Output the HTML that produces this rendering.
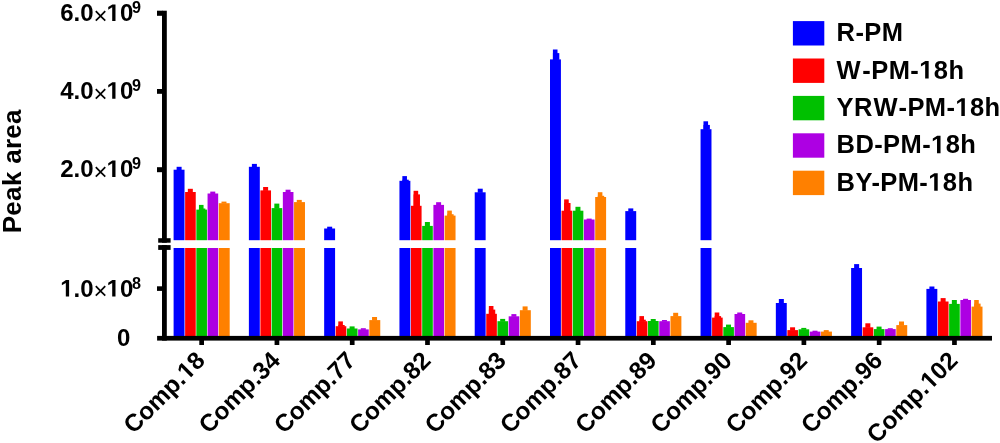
<!DOCTYPE html>
<html><head><meta charset="utf-8"><style>
html,body{margin:0;padding:0;background:#fff;}
svg{display:block;}
svg{will-change:transform;}
text{font-family:"Liberation Sans",sans-serif;font-weight:bold;fill:#000;}
.yl{font-size:24px;}
.x{font-weight:normal;}
.sup{font-size:16.2px;}
.xl{font-size:24.4px;}
.leg{font-size:25.5px;letter-spacing:0.4px;}
.one{fill:transparent;}
.yt{font-size:26px;letter-spacing:0.3px;}
</style></head><body>
<svg width="1000" height="443" viewBox="0 0 1000 443">
<rect width="1000" height="443" fill="#fff"/>
<rect x="173.6" y="169.7" width="10.92" height="70.5" fill="#0000ff"/>
<rect x="173.6" y="248" width="10.92" height="90" fill="#0000ff"/>
<rect x="176.61" y="166.8" width="5" height="3.4" fill="#0000ff"/>
<rect x="185.12" y="192" width="10.62" height="48.2" fill="#ff0000"/>
<rect x="185.12" y="248" width="10.62" height="90" fill="#ff0000"/>
<rect x="187.83" y="188.8" width="5" height="3.7" fill="#ff0000"/>
<rect x="196.34" y="209.6" width="10.62" height="30.6" fill="#00c000"/>
<rect x="196.34" y="248" width="10.62" height="90" fill="#00c000"/>
<rect x="198.95" y="204.9" width="4.6" height="5.2" fill="#00c000"/>
<rect x="198.95" y="208.5" width="6.4" height="1.6" fill="#00c000"/>
<rect x="207.56" y="193.5" width="10.62" height="46.7" fill="#ad00e3"/>
<rect x="207.56" y="248" width="10.62" height="90" fill="#ad00e3"/>
<rect x="210.27" y="191.6" width="5" height="2.4" fill="#ad00e3"/>
<rect x="218.78" y="203.2" width="10.92" height="37" fill="#ff8000"/>
<rect x="218.78" y="248" width="10.92" height="90" fill="#ff8000"/>
<rect x="221.49" y="201.6" width="5" height="2.1" fill="#ff8000"/>
<rect x="248.88" y="166.8" width="10.92" height="73.4" fill="#0000ff"/>
<rect x="248.88" y="248" width="10.92" height="90" fill="#0000ff"/>
<rect x="251.89" y="163.9" width="5" height="3.4" fill="#0000ff"/>
<rect x="260.4" y="190.4" width="10.62" height="49.8" fill="#ff0000"/>
<rect x="260.4" y="248" width="10.62" height="90" fill="#ff0000"/>
<rect x="263.11" y="187" width="5" height="3.9" fill="#ff0000"/>
<rect x="271.62" y="208.1" width="10.62" height="32.1" fill="#00c000"/>
<rect x="271.62" y="248" width="10.62" height="90" fill="#00c000"/>
<rect x="274.33" y="203.6" width="5" height="5" fill="#00c000"/>
<rect x="282.84" y="192" width="10.62" height="48.2" fill="#ad00e3"/>
<rect x="282.84" y="248" width="10.62" height="90" fill="#ad00e3"/>
<rect x="285.55" y="189.7" width="5" height="2.8" fill="#ad00e3"/>
<rect x="294.06" y="202.1" width="10.92" height="38.1" fill="#ff8000"/>
<rect x="294.06" y="248" width="10.92" height="90" fill="#ff8000"/>
<rect x="296.77" y="199.9" width="5" height="2.7" fill="#ff8000"/>
<rect x="324.16" y="228.5" width="10.92" height="11.7" fill="#0000ff"/>
<rect x="324.16" y="248" width="10.92" height="90" fill="#0000ff"/>
<rect x="327.17" y="226.7" width="5" height="2.3" fill="#0000ff"/>
<rect x="335.68" y="326.2" width="10.62" height="11.8" fill="#ff0000"/>
<rect x="338.29" y="321.4" width="4.6" height="5.3" fill="#ff0000"/>
<rect x="338.29" y="325" width="6.4" height="1.7" fill="#ff0000"/>
<rect x="346.9" y="328.5" width="10.62" height="9.5" fill="#00c000"/>
<rect x="349.61" y="326.4" width="5" height="2.6" fill="#00c000"/>
<rect x="358.12" y="329.4" width="10.62" height="8.6" fill="#ad00e3"/>
<rect x="360.83" y="328.2" width="5" height="1.7" fill="#ad00e3"/>
<rect x="369.34" y="320.1" width="10.92" height="17.9" fill="#ff8000"/>
<rect x="372.05" y="317" width="5" height="3.6" fill="#ff8000"/>
<rect x="399.44" y="180.8" width="10.92" height="59.4" fill="#0000ff"/>
<rect x="399.44" y="248" width="10.92" height="90" fill="#0000ff"/>
<rect x="402.35" y="176.1" width="4.6" height="5.2" fill="#0000ff"/>
<rect x="402.35" y="179.7" width="6.4" height="1.6" fill="#0000ff"/>
<rect x="410.96" y="205.8" width="10.62" height="34.4" fill="#ff0000"/>
<rect x="410.96" y="248" width="10.62" height="90" fill="#ff0000"/>
<rect x="413.57" y="190.8" width="4.6" height="15.5" fill="#ff0000"/>
<rect x="413.57" y="194.4" width="6.4" height="11.9" fill="#ff0000"/>
<rect x="422.18" y="225.9" width="10.62" height="14.3" fill="#00c000"/>
<rect x="422.18" y="248" width="10.62" height="90" fill="#00c000"/>
<rect x="424.89" y="222" width="5" height="4.4" fill="#00c000"/>
<rect x="433.4" y="204.9" width="10.62" height="35.3" fill="#ad00e3"/>
<rect x="433.4" y="248" width="10.62" height="90" fill="#ad00e3"/>
<rect x="436.11" y="202.2" width="5" height="3.2" fill="#ad00e3"/>
<rect x="444.62" y="215.6" width="10.92" height="24.6" fill="#ff8000"/>
<rect x="444.62" y="248" width="10.92" height="90" fill="#ff8000"/>
<rect x="447.23" y="210.6" width="4.6" height="5.5" fill="#ff8000"/>
<rect x="447.23" y="214.2" width="6.4" height="1.9" fill="#ff8000"/>
<rect x="474.72" y="192.3" width="10.92" height="47.9" fill="#0000ff"/>
<rect x="474.72" y="248" width="10.92" height="90" fill="#0000ff"/>
<rect x="477.73" y="188.7" width="5" height="4.1" fill="#0000ff"/>
<rect x="486.24" y="313.8" width="10.62" height="24.2" fill="#ff0000"/>
<rect x="488.85" y="306" width="4.6" height="8.3" fill="#ff0000"/>
<rect x="488.85" y="309.6" width="6.4" height="4.7" fill="#ff0000"/>
<rect x="497.46" y="321.2" width="10.62" height="16.8" fill="#00c000"/>
<rect x="500.17" y="318.9" width="5" height="2.8" fill="#00c000"/>
<rect x="508.68" y="316.3" width="10.62" height="21.7" fill="#ad00e3"/>
<rect x="511.39" y="314.1" width="5" height="2.7" fill="#ad00e3"/>
<rect x="519.9" y="310.2" width="10.92" height="27.8" fill="#ff8000"/>
<rect x="522.61" y="306.4" width="5" height="4.3" fill="#ff8000"/>
<rect x="550" y="59.4" width="10.92" height="180.8" fill="#0000ff"/>
<rect x="550" y="248" width="10.92" height="90" fill="#0000ff"/>
<rect x="552.91" y="49.5" width="4.6" height="10.4" fill="#0000ff"/>
<rect x="552.91" y="53.1" width="6.4" height="6.8" fill="#0000ff"/>
<rect x="561.52" y="210.7" width="10.62" height="29.5" fill="#ff0000"/>
<rect x="561.52" y="248" width="10.62" height="90" fill="#ff0000"/>
<rect x="564.13" y="199.4" width="4.6" height="11.8" fill="#ff0000"/>
<rect x="564.13" y="203" width="6.4" height="8.2" fill="#ff0000"/>
<rect x="572.74" y="210.7" width="10.62" height="29.5" fill="#00c000"/>
<rect x="572.74" y="248" width="10.62" height="90" fill="#00c000"/>
<rect x="575.45" y="206.8" width="5" height="4.4" fill="#00c000"/>
<rect x="583.96" y="219.5" width="10.62" height="20.7" fill="#ad00e3"/>
<rect x="583.96" y="248" width="10.62" height="90" fill="#ad00e3"/>
<rect x="586.67" y="218.6" width="5" height="1.4" fill="#ad00e3"/>
<rect x="595.18" y="197" width="10.92" height="43.2" fill="#ff8000"/>
<rect x="595.18" y="248" width="10.92" height="90" fill="#ff8000"/>
<rect x="597.79" y="192.2" width="4.6" height="5.3" fill="#ff8000"/>
<rect x="597.79" y="195.8" width="6.4" height="1.7" fill="#ff8000"/>
<rect x="625.28" y="211.1" width="10.92" height="29.1" fill="#0000ff"/>
<rect x="625.28" y="248" width="10.92" height="90" fill="#0000ff"/>
<rect x="628.29" y="208.4" width="5" height="3.2" fill="#0000ff"/>
<rect x="636.8" y="321.2" width="10.62" height="16.8" fill="#ff0000"/>
<rect x="639.41" y="316.1" width="4.6" height="5.6" fill="#ff0000"/>
<rect x="639.41" y="319.7" width="6.4" height="2" fill="#ff0000"/>
<rect x="648.02" y="321" width="10.62" height="17" fill="#00c000"/>
<rect x="650.73" y="319" width="5" height="2.5" fill="#00c000"/>
<rect x="659.24" y="321.2" width="10.62" height="16.8" fill="#ad00e3"/>
<rect x="661.95" y="320" width="5" height="1.7" fill="#ad00e3"/>
<rect x="670.46" y="316.1" width="10.92" height="21.9" fill="#ff8000"/>
<rect x="673.17" y="312.8" width="5" height="3.8" fill="#ff8000"/>
<rect x="700.56" y="129.2" width="10.92" height="111" fill="#0000ff"/>
<rect x="700.56" y="248" width="10.92" height="90" fill="#0000ff"/>
<rect x="703.47" y="121.3" width="4.6" height="8.4" fill="#0000ff"/>
<rect x="703.47" y="124.9" width="6.4" height="4.8" fill="#0000ff"/>
<rect x="712.08" y="317.6" width="10.62" height="20.4" fill="#ff0000"/>
<rect x="714.69" y="312.5" width="4.6" height="5.6" fill="#ff0000"/>
<rect x="714.69" y="316.1" width="6.4" height="2" fill="#ff0000"/>
<rect x="723.3" y="327.1" width="10.62" height="10.9" fill="#00c000"/>
<rect x="726.01" y="324.6" width="5" height="3" fill="#00c000"/>
<rect x="734.52" y="314" width="10.62" height="24" fill="#ad00e3"/>
<rect x="737.23" y="312.5" width="5" height="2" fill="#ad00e3"/>
<rect x="745.74" y="322.8" width="10.92" height="15.2" fill="#ff8000"/>
<rect x="748.45" y="320.3" width="5" height="3" fill="#ff8000"/>
<rect x="775.84" y="303" width="10.92" height="35" fill="#0000ff"/>
<rect x="778.85" y="299" width="5" height="4.5" fill="#0000ff"/>
<rect x="787.36" y="330.1" width="10.62" height="7.9" fill="#ff0000"/>
<rect x="790.07" y="327.3" width="5" height="3.3" fill="#ff0000"/>
<rect x="798.58" y="329.3" width="10.62" height="8.7" fill="#00c000"/>
<rect x="801.29" y="327.9" width="5" height="1.9" fill="#00c000"/>
<rect x="809.8" y="331.6" width="10.62" height="6.4" fill="#ad00e3"/>
<rect x="812.51" y="330.7" width="5" height="1.4" fill="#ad00e3"/>
<rect x="821.02" y="331.6" width="10.92" height="6.4" fill="#ff8000"/>
<rect x="823.73" y="330.1" width="5" height="2" fill="#ff8000"/>
<rect x="851.12" y="268" width="10.92" height="70" fill="#0000ff"/>
<rect x="854.13" y="264.1" width="5" height="4.4" fill="#0000ff"/>
<rect x="862.64" y="327.3" width="10.62" height="10.7" fill="#ff0000"/>
<rect x="865.35" y="323.3" width="5" height="4.5" fill="#ff0000"/>
<rect x="873.86" y="329.1" width="10.62" height="8.9" fill="#00c000"/>
<rect x="876.57" y="326.6" width="5" height="3" fill="#00c000"/>
<rect x="885.08" y="329.1" width="10.62" height="8.9" fill="#ad00e3"/>
<rect x="887.79" y="328.2" width="5" height="1.4" fill="#ad00e3"/>
<rect x="896.3" y="325.1" width="10.92" height="12.9" fill="#ff8000"/>
<rect x="899.01" y="321.5" width="5" height="4.1" fill="#ff8000"/>
<rect x="926.4" y="288.9" width="10.92" height="49.1" fill="#0000ff"/>
<rect x="929.41" y="286.5" width="5" height="2.9" fill="#0000ff"/>
<rect x="937.92" y="301.5" width="10.62" height="36.5" fill="#ff0000"/>
<rect x="940.63" y="298.1" width="5" height="3.9" fill="#ff0000"/>
<rect x="949.14" y="303.9" width="10.62" height="34.1" fill="#00c000"/>
<rect x="951.85" y="300" width="5" height="4.4" fill="#00c000"/>
<rect x="960.36" y="300" width="10.62" height="38" fill="#ad00e3"/>
<rect x="963.07" y="298.8" width="5" height="1.7" fill="#ad00e3"/>
<rect x="971.58" y="306.6" width="10.92" height="31.4" fill="#ff8000"/>
<rect x="974.19" y="300" width="4.6" height="7.1" fill="#ff8000"/>
<rect x="974.19" y="303.6" width="6.4" height="3.5" fill="#ff8000"/>
<g fill="#000">
<rect x="162" y="10.7" width="4.8" height="232"/>
<rect x="158.2" y="238.2" width="12.4" height="4.5"/>
<rect x="158.2" y="245.1" width="12.4" height="4.8"/>
<rect x="162" y="245.1" width="4.8" height="95.5"/>
<rect x="157.1" y="335.9" width="834.9" height="4.7"/>
<rect x="157" y="10.7" width="5.5" height="5.1"/>
<rect x="157" y="89" width="5.5" height="4.8"/>
<rect x="157" y="167.2" width="5.5" height="5"/>
<rect x="157" y="286.3" width="5.5" height="4.6"/>
<rect x="199.3" y="338" width="4.7" height="7" fill="#000"/>
<rect x="274.58" y="338" width="4.7" height="7" fill="#000"/>
<rect x="349.86" y="338" width="4.7" height="7" fill="#000"/>
<rect x="425.14" y="338" width="4.7" height="7" fill="#000"/>
<rect x="500.42" y="338" width="4.7" height="7" fill="#000"/>
<rect x="575.7" y="338" width="4.7" height="7" fill="#000"/>
<rect x="650.98" y="338" width="4.7" height="7" fill="#000"/>
<rect x="726.26" y="338" width="4.7" height="7" fill="#000"/>
<rect x="801.54" y="338" width="4.7" height="7" fill="#000"/>
<rect x="876.82" y="338" width="4.7" height="7" fill="#000"/>
<rect x="952.1" y="338" width="4.7" height="7" fill="#000"/>
</g>
<g class="yl">
<text x="93.6" y="20.9" text-anchor="end">6.0</text><text x="100.6" y="20.9" text-anchor="middle" class="x" dy="2.8">×</text><text x="106.6" y="20.9"><tspan class="one">1</tspan>0</text><text x="131.9" y="13.2" class="sup">9</text>
<text x="93.6" y="98.8" text-anchor="end">4.0</text><text x="100.6" y="98.8" text-anchor="middle" class="x" dy="2.8">×</text><text x="106.6" y="98.8"><tspan class="one">1</tspan>0</text><text x="131.9" y="91.1" class="sup">9</text>
<text x="93.6" y="177" text-anchor="end">2.0</text><text x="100.6" y="177" text-anchor="middle" class="x" dy="2.8">×</text><text x="106.6" y="177"><tspan class="one">1</tspan>0</text><text x="131.9" y="169.3" class="sup">9</text>
<text x="93.6" y="296.6" text-anchor="end"><tspan class="one">1</tspan>.0</text><text x="100.6" y="296.6" text-anchor="middle" class="x" dy="2.8">×</text><text x="106.6" y="296.6"><tspan class="one">1</tspan>0</text><text x="131.9" y="288.9" class="sup">8</text>
<text x="130.3" y="345.7" text-anchor="end">0</text>
</g>
<text class="yt" transform="rotate(-90 21 171.2)" x="21" y="171.2" text-anchor="middle">Peak area</text>
<g class="xl">
<text x="206.35" y="362" text-anchor="end" transform="rotate(-45 206.35 362)">Comp.<tspan class="one">1</tspan>8</text>
<text x="281.63" y="362" text-anchor="end" transform="rotate(-45 281.63 362)">Comp.34</text>
<text x="356.91" y="362" text-anchor="end" transform="rotate(-45 356.91 362)">Comp.77</text>
<text x="432.19" y="362" text-anchor="end" transform="rotate(-45 432.19 362)">Comp.82</text>
<text x="507.47" y="362" text-anchor="end" transform="rotate(-45 507.47 362)">Comp.83</text>
<text x="582.75" y="362" text-anchor="end" transform="rotate(-45 582.75 362)">Comp.87</text>
<text x="658.03" y="362" text-anchor="end" transform="rotate(-45 658.03 362)">Comp.89</text>
<text x="733.31" y="362" text-anchor="end" transform="rotate(-45 733.31 362)">Comp.90</text>
<text x="808.59" y="362" text-anchor="end" transform="rotate(-45 808.59 362)">Comp.92</text>
<text x="883.87" y="362" text-anchor="end" transform="rotate(-45 883.87 362)">Comp.96</text>
<text x="959.15" y="362" text-anchor="end" transform="rotate(-45 959.15 362)">Comp.<tspan class="one">1</tspan>02</text>
</g>
<rect x="792.9" y="21.1" width="31.4" height="24.4" fill="#0000ff"/>
<text x="836.6" y="41.1" class="leg">R-PM</text>
<rect x="792.9" y="58.5" width="31.4" height="24.4" fill="#ff0000"/>
<text x="836.6" y="78.5" class="leg">W<tspan dx="1.8">-PM-<tspan class="one">1</tspan>8h</tspan></text>
<rect x="792.9" y="95.9" width="31.4" height="24.4" fill="#00c000"/>
<text x="836.6" y="115.9" class="leg">YR<tspan dx="1.2">W</tspan><tspan dx="1">-PM-<tspan class="one">1</tspan>8h</tspan></text>
<rect x="792.9" y="133.3" width="31.4" height="24.4" fill="#ad00e3"/>
<text x="836.6" y="153.3" class="leg">BD-PM-<tspan class="one">1</tspan>8h</text>
<rect x="792.9" y="170.7" width="31.4" height="24.4" fill="#ff8000"/>
<text x="836.6" y="190.7" class="leg">BY-PM-<tspan class="one">1</tspan>8h</text>
<g fill="#000"><path transform="translate(106.60 20.90) scale(0.01172 -0.01172)" d="M478,0L478,1170L140,959L140,1180L493,1409L759,1409L759,0Z"/><path transform="translate(106.60 98.80) scale(0.01172 -0.01172)" d="M478,0L478,1170L140,959L140,1180L493,1409L759,1409L759,0Z"/><path transform="translate(106.60 177.00) scale(0.01172 -0.01172)" d="M478,0L478,1170L140,959L140,1180L493,1409L759,1409L759,0Z"/><path transform="translate(60.22 296.60) scale(0.01172 -0.01172)" d="M478,0L478,1170L140,959L140,1180L493,1409L759,1409L759,0Z"/><path transform="translate(106.60 296.60) scale(0.01172 -0.01172)" d="M478,0L478,1170L140,959L140,1180L493,1409L759,1409L759,0Z"/><path transform="rotate(-45 206.35 362) translate(179.19 362.00) scale(0.01191 -0.01191)" d="M478,0L478,1170L140,959L140,1180L493,1409L759,1409L759,0Z"/><path transform="rotate(-45 959.15 362) translate(918.43 362.00) scale(0.01191 -0.01191)" d="M478,0L478,1170L140,959L140,1180L493,1409L759,1409L759,0Z"/><path transform="translate(919.21 78.50) scale(0.01245 -0.01245)" d="M478,0L478,1170L140,959L140,1180L493,1409L759,1409L759,0Z"/><path transform="translate(955.38 115.90) scale(0.01245 -0.01245)" d="M478,0L478,1170L140,959L140,1180L493,1409L759,1409L759,0Z"/><path transform="translate(931.07 153.30) scale(0.01245 -0.01245)" d="M478,0L478,1170L140,959L140,1180L493,1409L759,1409L759,0Z"/><path transform="translate(928.26 190.70) scale(0.01245 -0.01245)" d="M478,0L478,1170L140,959L140,1180L493,1409L759,1409L759,0Z"/></g>
</svg>
</body></html>
